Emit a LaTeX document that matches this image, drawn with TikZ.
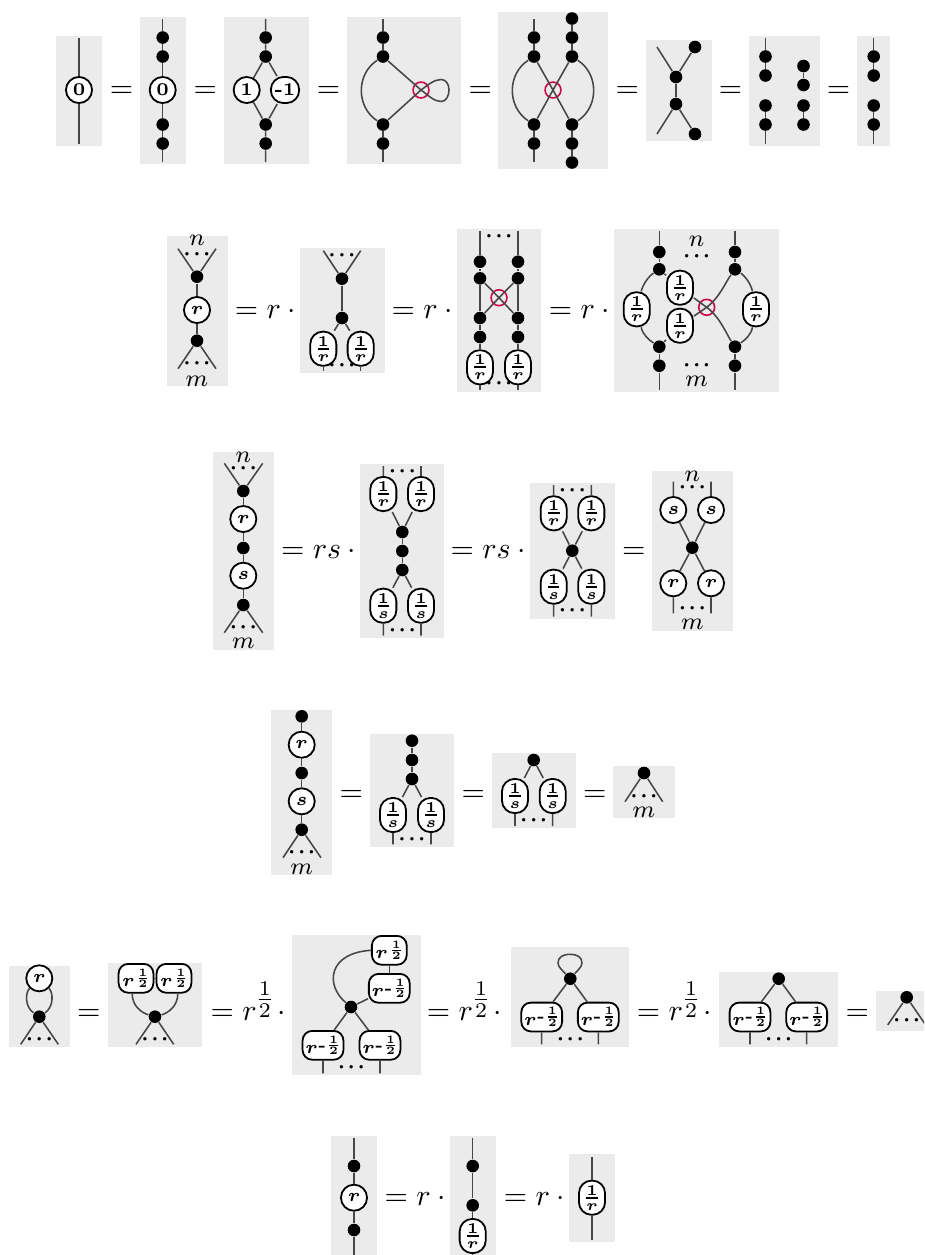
\documentclass[tikz,border=0pt]{standalone}
\usepackage{amsmath}
\usepackage{bm}
\definecolor{boxgray}{RGB}{235,235,235}
\definecolor{crossred}{RGB}{204,10,80}
\newcommand{\nodefont}{\fontsize{6}{7}\selectfont}
\tikzset{
  x=0.3333pt,y=-0.3333pt,
  graybox/.style={fill=boxgray,draw=none},
  wire/.style={draw=black!72,line width=0.52pt},
  dotn/.style={circle,fill=black,draw=none,minimum size=4.2pt,inner sep=0pt},
  circn/.style={circle,fill=white,draw=black,line width=0.6pt,minimum size=8.7pt,inner sep=0pt,font=\nodefont},
  pilln/.style={rectangle,rounded corners=4.2pt,fill=white,draw=black,line width=0.6pt,minimum width=9.4pt,minimum height=8.7pt,inner sep=0pt,font=\nodefont},
  fracn/.style={rectangle,rounded corners=4.2pt,fill=white,draw=black,line width=0.6pt,minimum width=8.7pt,minimum height=11.4pt,inner sep=0pt,font=\nodefont},
  halfn/.style={rectangle,rounded corners=3.2pt,fill=white,draw=black,line width=0.6pt,minimum width=11.6pt,minimum height=9.6pt,inner sep=0pt,font=\nodefont},
  negn/.style={rectangle,rounded corners=3.2pt,fill=white,draw=black,line width=0.6pt,minimum width=13.6pt,minimum height=9.6pt,inner sep=0pt,font=\nodefont},
  crossn/.style={circle,draw=crossred,line width=0.55pt,minimum size=5.3pt,inner sep=0pt},
  dotsn/.style={anchor=base,yshift=-1.75pt,inner sep=0pt,font=\scriptsize},
  labn/.style={anchor=base,yshift=-1.72pt,inner sep=0pt,font=\footnotesize},
  eqnn/.style={anchor=base west,yshift=-2.5pt,inner sep=0pt},
}
\newcommand{\bhalf}{\raisebox{1.9pt}{\scalebox{0.75}{$\bm{\genfrac{}{}{0.6pt}{3}{1}{2}}$}}}
\newcommand{\tkBox}[4]{\fill[graybox] (#1,#2) rectangle (#3,#4);}
\newcommand{\tkDot}[3]{\node[dotn] (#1) at (#2,#3) {};}
\newcommand{\tkCirc}[4]{\node[circn] (#1) at (#2,#3) {$\bm{#4}$};}
\newcommand{\tkFrac}[4]{\node[fracn] (#1) at (#2,#3) {$\bm{\genfrac{}{}{0.6pt}{}{1}{#4}}$};}
\newcommand{\tkHalf}[3]{\node[halfn] (#1) at (#2,#3) {$\bm{r}$\kern0.5pt\bhalf};}
\newcommand{\tkNeg}[3]{\node[negn] (#1) at (#2,#3) {$\bm{r}$\kern0.2pt\raisebox{1.2pt}{\fontsize{5}{5}\selectfont\bfseries -}\kern0.2pt\bhalf};}
\newcommand{\tkCross}[3]{\node[crossn] (#1) at (#2,#3) {};}
\newcommand{\tkEnd}[3]{\coordinate (#1) at (#2,#3);}
\newcommand{\bdot}{\mathord{\bm{\cdot}}}
\newcommand{\tkDots}[3]{\node[dotsn] (#1) at (#2,#3) {$\bdot\kern0.7pt\bdot\kern0.7pt\bdot$};}
\newcommand{\tkLab}[4]{\node[labn] (#1) at (#2,#3) {$#4$};}
\newcommand{\tkEq}[4]{\node[eqnn] (#1) at (#2,#3) {$#4$};}
\newcommand{\rhalf}{r^{\mkern-1mu\genfrac{}{}{}{1}{1}{2}}\mkern-3mu}
\begin{document}
\begin{tikzpicture}
\path[use as bounding box,clip] (0,0) rectangle (924,1255);
% ---------- Row 1
\tkBox{56}{36}{102}{146}
\tkEnd{aa1}{79}{38}\tkEnd{aa2}{79}{144}
\tkCirc{aac}{79}{90}{0}
\draw[wire] (aa1) -- (aac) -- (aa2);
\tkEq{e11}{109.2}{90}{=}
\tkBox{140}{17}{186}{164}
\tkEnd{ab1}{162.7}{19}\tkEnd{ab2}{162.7}{162}
\tkDot{abd1}{162.7}{37.5}\tkDot{abd2}{162.7}{56.5}\tkDot{abd3}{162.7}{124.5}\tkDot{abd4}{162.7}{143.5}
\tkCirc{abc}{162.7}{90}{0}
\draw[wire] (ab1) -- (abd1) -- (abd2) -- (abc) -- (abd3) -- (abd4) -- (ab2);
\tkEq{e12}{193}{90}{=}
\tkBox{224}{17}{309}{164}
\tkEnd{ac1}{265.7}{19}\tkEnd{ac2}{265.7}{162}
\tkDot{acd1}{265.7}{37.5}\tkDot{acd2}{265.7}{56.5}\tkDot{acd3}{265.7}{124.5}\tkDot{acd4}{265.7}{143.5}
\tkCirc{acl}{246.7}{90}{1}
\node[pilln] (acr) at (285,90) {\textbf{-1}};
\draw[wire] (ac1) -- (acd1) -- (acd2) -- (acl) -- (acd3) -- (acd4) -- (ac2);
\draw[wire] (acd2) -- (acr) -- (acd3);
\tkEq{e13}{316.3}{90}{=}
\tkBox{347}{17}{461}{164}
\tkEnd{ad1}{383}{19}\tkEnd{ad2}{383}{162}
\tkDot{add1}{383}{37.5}\tkDot{add2}{383}{56.5}\tkDot{add3}{383}{124.5}\tkDot{add4}{383}{143.5}
\tkCross{adx}{421}{90}
\draw[wire] (ad1) -- (add1) -- (add2);
\draw[wire] (add3) -- (add4) -- (ad2);
\draw[wire] (add2) .. controls (356,74) and (356,107) .. (add3);
\draw[wire] (add2) -- (adx.center) -- (add3);
\draw[wire] (adx.center) .. controls (428,85) and (434,79.5) .. (441,79.5) .. controls (446,79.5) and (449,84) .. (449,90) .. controls (449,96) and (446,101.5) .. (441,101.5) .. controls (434,101.5) and (428,95) .. (adx.center);
\tkEq{e14}{468}{90}{=}
\tkBox{498}{12}{608}{169}
\tkEnd{ae1}{534}{19}\tkEnd{ae2}{534}{162}
\tkDot{aed1}{534}{37.5}\tkDot{aed2}{534}{56.5}\tkDot{aed3}{534}{124.5}\tkDot{aed4}{534}{143.5}
\tkDot{aef0}{572}{18.5}\tkDot{aef1}{572}{37.5}\tkDot{aef2}{572}{56.5}\tkDot{aef3}{572}{124.5}\tkDot{aef4}{572}{143.5}\tkDot{aef5}{572}{162.5}
\tkCross{aex}{553}{90}
\draw[wire] (ae1) -- (aed1) -- (aed2);
\draw[wire] (aed3) -- (aed4) -- (ae2);
\draw[wire] (aef0) -- (aef1) -- (aef2);
\draw[wire] (aef3) -- (aef4) -- (aef5);
\draw[wire] (aed2) -- (aex.center) -- (aef3);
\draw[wire] (aef2) -- (aex.center) -- (aed3);
\draw[wire] (aed2) .. controls (507,74) and (507,107) .. (aed3);
\draw[wire] (aef2) .. controls (599,74) and (599,107) .. (aef3);
\tkEq{e15}{615}{90}{=}
\tkBox{646}{40}{712}{141}
\tkDot{afa}{676}{77}\tkDot{afb}{676}{104}\tkDot{afc}{695}{47}\tkDot{afd}{695}{134}
\tkEnd{af1}{657}{47}\tkEnd{af2}{657}{134}
\draw[wire] (af1) -- (afa) -- (afb) -- (af2);
\draw[wire] (afc) -- (afa);
\draw[wire] (afb) -- (afd);
\tkEq{e16}{718.3}{90}{=}
\tkBox{749}{36}{820}{146}
\tkEnd{ag1}{765.5}{38}\tkEnd{ag2}{765.5}{144}
\tkDot{agd1}{765.5}{56.5}\tkDot{agd2}{765.5}{75.5}\tkDot{agd3}{765.5}{105.5}\tkDot{agd4}{765.5}{124.5}
\tkDot{agf1}{803.5}{66}\tkDot{agf2}{803.5}{85}\tkDot{agf3}{803.5}{105.5}\tkDot{agf4}{803.5}{124.5}
\draw[wire] (ag1) -- (agd1) -- (agd2);
\draw[wire] (agd3) -- (agd4) -- (ag2);
\draw[wire] (agf1) -- (agf2);
\draw[wire] (agf3) -- (agf4);
\tkEq{e17}{826.3}{90}{=}
\tkBox{857}{36}{890}{146}
\tkEnd{ah1}{873.7}{38}\tkEnd{ah2}{873.7}{144}
\tkDot{ahd1}{873.7}{56.5}\tkDot{ahd2}{873.7}{75.5}\tkDot{ahd3}{873.7}{105.5}\tkDot{ahd4}{873.7}{124.5}
\draw[wire] (ah1) -- (ahd1) -- (ahd2);
\draw[wire] (ahd3) -- (ahd4) -- (ah2);
% ---------- Row 2
\tkBox{167}{236}{228}{386}
\tkDot{bat}{197}{276.7}\tkDot{bab}{197}{340.7}\tkCirc{bac}{197}{310}{r}
\tkEnd{ba1}{178}{248.7}\tkEnd{ba2}{216}{248.7}\tkEnd{ba3}{178}{368.7}\tkEnd{ba4}{216}{368.7}
\draw[wire] (ba1) -- (bat) -- (ba2);
\draw[wire] (ba3) -- (bab) -- (ba4);
\draw[wire] (bat) -- (bac) -- (bab);
\tkDots{bad1}{197}{254}\tkDots{bad2}{197}{363}
\tkLab{ban}{197}{240}{n}\tkLab{bam}{197}{381}{m}
\tkEq{e21}{234.3}{310.7}{=r\cdot{}}
\tkBox{300}{248}{385}{372.7}
\tkDot{bbt}{342}{278.7}\tkDot{bbb}{342}{318}
\tkEnd{bb1}{323.3}{250.7}\tkEnd{bb2}{360.7}{250.7}
\tkFrac{bbf}{323.3}{348.7}{r}\tkFrac{bbg}{360.7}{348.7}{r}
\tkEnd{bb3}{323.3}{371}\tkEnd{bb4}{360.7}{371}
\draw[wire] (bb1) -- (bbt) -- (bb2);
\draw[wire] (bbt) -- (bbb);
\draw[wire] (bbf) -- (bbb) -- (bbg);
\draw[wire] (bbf) -- (bb3);
\draw[wire] (bbg) -- (bb4);
\tkDots{bbd1}{342}{255.5}\tkDots{bbd2}{342}{365}
\tkEq{e22}{391}{310.7}{=r\cdot{}}
\tkBox{457}{229}{541}{391.7}
\tkEnd{bc1}{480}{231}\tkEnd{bc2}{518}{231}\tkEnd{bc3}{480}{390}\tkEnd{bc4}{518}{390}
\tkDot{bcl1}{480}{261.7}\tkDot{bcl2}{480}{278.3}\tkDot{bcl3}{480}{318}\tkDot{bcl4}{480}{337}
\tkDot{bcr1}{518}{261.7}\tkDot{bcr2}{518}{278.3}\tkDot{bcr3}{518}{318}\tkDot{bcr4}{518}{337}
\tkCross{bcx}{499}{297.7}
\tkFrac{bcf}{480}{367.3}{r}\tkFrac{bcg}{518}{367.3}{r}
\draw[wire] (bc1) -- (bcl1) -- (bcl2) -- (bcl3) -- (bcl4) -- (bcf) -- (bc3);
\draw[wire] (bc2) -- (bcr1) -- (bcr2) -- (bcr3) -- (bcr4) -- (bcg) -- (bc4);
\draw[wire] (bcl2) -- (bcx.center) -- (bcr3);
\draw[wire] (bcr2) -- (bcx.center) -- (bcl3);
\tkDots{bcd1}{499}{236.7}\tkDots{bcd2}{499}{383.7}
\tkEq{e23}{548.3}{310.7}{=r\cdot{}}
\tkBox{614}{229}{778.7}{391.7}
\tkEnd{bd1}{659.3}{231}\tkEnd{bd2}{735}{231}\tkEnd{bd3}{659.3}{390}\tkEnd{bd4}{735}{390}
\tkDot{bdl1}{659.3}{252}\tkDot{bdl2}{659.3}{269.3}\tkDot{bdl3}{659.3}{346.7}\tkDot{bdl4}{659.3}{365.7}
\tkDot{bdr1}{735}{252}\tkDot{bdr2}{735}{269.3}\tkDot{bdr3}{735}{346.7}\tkDot{bdr4}{735}{365.7}
\tkFrac{bdL}{636.7}{309.3}{r}\tkFrac{bdR}{756}{309.3}{r}
\tkFrac{bdT}{680}{287.7}{r}\tkFrac{bdB}{680}{325.7}{r}
\tkCross{bdx}{706.7}{307.3}
\draw[wire] (bd1) -- (bdl1) -- (bdl2);
\draw[wire] (bdl3) -- (bdl4) -- (bd3);
\draw[wire] (bd2) -- (bdr1) -- (bdr2);
\draw[wire] (bdr3) -- (bdr4) -- (bd4);
\draw[wire] (bdl2) -- (bdT);
\draw[wire] (bdl3) -- (bdB);
\draw[wire] (bdT) -- (bdx.center);
\draw[wire] (bdB) -- (bdx.center);
\draw[wire] (bdx.center) .. controls (720,317) and (727,335) .. (bdr3);
\draw[wire] (bdx.center) .. controls (720,297) and (725,283) .. (bdr2);
\draw[wire] (bdl2) .. controls (649,276) and (643,284) .. (bdL);
\draw[wire] (bdL) .. controls (643,335) and (649,340) .. (bdl3);
\draw[wire] (bdr2) .. controls (745,276) and (751,284) .. (bdR);
\draw[wire] (bdR) .. controls (751,335) and (745,340) .. (bdr3);
\tkLab{bdn}{696.7}{241.7}{n}\tkLab{bdm}{696.7}{381.7}{m}
\tkDots{bdd1}{696.7}{256}\tkDots{bdd2}{696.7}{365}
% ---------- Row 3
\tkBox{213}{452}{274}{649.7}
\tkDot{cad1}{243.3}{491}\tkDot{cad2}{243.3}{548}\tkDot{cad3}{243.3}{605}
\tkCirc{car}{243.3}{519}{r}\tkCirc{cas}{243.3}{575.7}{s}
\tkEnd{ca1}{224.3}{463.3}\tkEnd{ca2}{262.7}{463.3}\tkEnd{ca3}{224.3}{632.7}\tkEnd{ca4}{262.7}{632.7}
\draw[wire] (ca1) -- (cad1) -- (ca2);
\draw[wire] (ca3) -- (cad3) -- (ca4);
\draw[wire] (cad1) -- (car) -- (cad2) -- (cas) -- (cad3);
\tkLab{can}{243.3}{457}{n}\tkLab{cam}{243.3}{643}{m}
\tkDots{cae1}{243.3}{468.5}\tkDots{cae2}{243.3}{627}
\tkEq{e31}{280.6}{551}{=rs\cdot{}}
\tkBox{360}{463.7}{444}{637.7}
\tkDot{cbd1}{402.3}{532}\tkDot{cbd2}{402.3}{551}\tkDot{cbd3}{402.3}{570}
\tkFrac{cbf}{383.3}{494}{r}\tkFrac{cbg}{421}{494}{r}\tkFrac{cbh}{383.3}{605.7}{s}\tkFrac{cbi}{421}{605.7}{s}
\tkEnd{cb1}{383.3}{466}\tkEnd{cb2}{421}{466}\tkEnd{cb3}{383.3}{635.7}\tkEnd{cb4}{421}{635.7}
\draw[wire] (cb1) -- (cbf) -- (cbd1) -- (cbg) -- (cb2);
\draw[wire] (cb3) -- (cbh) -- (cbd3) -- (cbi) -- (cb4);
\draw[wire] (cbd1) -- (cbd2) -- (cbd3);
\tkDots{cbe1}{402.3}{471}\tkDots{cbe2}{402.3}{630.3}
\tkEq{e32}{450}{551}{=rs\cdot{}}
\tkBox{530}{483}{615}{619}
\tkDot{ccd}{572.3}{550.7}
\tkFrac{ccf}{553.7}{513.3}{r}\tkFrac{ccg}{591.3}{513.3}{r}\tkFrac{cch}{553.7}{586.7}{s}\tkFrac{cci}{591.3}{586.7}{s}
\tkEnd{cc1}{553.7}{485}\tkEnd{cc2}{591.3}{485}\tkEnd{cc3}{553.7}{616.7}\tkEnd{cc4}{591.3}{616.7}
\draw[wire] (cc1) -- (ccf) -- (ccd) -- (cci) -- (cc4);
\draw[wire] (cc2) -- (ccg) -- (ccd) -- (cch) -- (cc3);
\tkDots{cce1}{572.3}{490}\tkDots{cce2}{572.3}{610.7}
\tkEq{e33}{621.6}{550.7}{=}
\tkBox{652}{471}{732.7}{630.7}
\tkDot{cdd}{692.3}{547.7}
\tkCirc{cdf}{673.3}{510}{s}\tkCirc{cdg}{711}{510}{s}\tkCirc{cdh}{673.3}{583.3}{r}\tkCirc{cdi}{711}{583.3}{r}
\tkEnd{cd1}{673.3}{481.7}\tkEnd{cd2}{711}{481.7}\tkEnd{cd3}{673.3}{613.3}\tkEnd{cd4}{711}{613.3}
\draw[wire] (cd1) -- (cdf) -- (cdd) -- (cdi) -- (cd4);
\draw[wire] (cd2) -- (cdg) -- (cdd) -- (cdh) -- (cd3);
\tkLab{cdn}{692.3}{476}{n}\tkLab{cdm}{692.3}{624.3}{m}
\tkDots{cde1}{692.3}{487.3}\tkDots{cde2}{692.3}{608.3}
% ---------- Row 4
\tkBox{271}{710}{332}{875}
\tkDot{dad1}{301.7}{716.3}\tkDot{dad2}{301.7}{773}\tkDot{dad3}{301.7}{829.7}
\tkCirc{dar}{301.7}{744.7}{r}\tkCirc{das}{301.7}{801.3}{s}
\tkEnd{da3}{283}{857.7}\tkEnd{da4}{321}{857.7}
\draw[wire] (dad1) -- (dar) -- (dad2) -- (das) -- (dad3);
\draw[wire] (da3) -- (dad3) -- (da4);
\tkDots{dae}{301.7}{852}\tkLab{dam}{301.7}{869.3}{m}
\tkEq{e41}{339}{794.3}{=}
\tkBox{370}{734}{454}{846.7}
\tkDot{dbd1}{412}{740.7}\tkDot{dbd2}{412}{760}\tkDot{dbd3}{412}{779}
\tkFrac{dbf}{393}{815}{s}\tkFrac{dbg}{431}{815}{s}
\tkEnd{db1}{393}{844.3}\tkEnd{db2}{431}{844.3}
\draw[wire] (dbd1) -- (dbd2) -- (dbd3);
\draw[wire] (db1) -- (dbf) -- (dbd3) -- (dbg) -- (db2);
\tkDots{dbe}{412}{839.3}
\tkEq{e42}{461}{794.3}{=}
\tkBox{492}{753}{576}{828}
\tkDot{dcd}{533.7}{760}
\tkFrac{dcf}{515}{796}{s}\tkFrac{dcg}{552.7}{796}{s}
\tkEnd{dc1}{515}{826}\tkEnd{dc2}{552.7}{826}
\draw[wire] (dc1) -- (dcf) -- (dcd) -- (dcg) -- (dc2);
\tkDots{dce}{533.7}{820.3}
\tkEq{e43}{582.6}{794.3}{=}
\tkBox{613}{766}{675}{817.7}
\tkDot{ddd}{644}{773}
\tkEnd{dd1}{625}{801.7}\tkEnd{dd2}{662.7}{801.7}
\draw[wire] (dd1) -- (ddd) -- (dd2);
\tkDots{dde}{644}{796.7}\tkLab{ddm}{644}{812.7}{m}
% ---------- Row 5
\tkBox{9}{966}{70}{1046.7}
\tkCirc{eac}{39.3}{978.3}{r}\tkDot{ead}{39.3}{1016.7}
\tkEnd{ea1}{20.7}{1044.3}\tkEnd{ea2}{58.3}{1044.3}
\draw[wire] (ea1) -- (ead) -- (ea2);
\draw[wire] (eac) .. controls (25,993) and (25,1007) .. (ead);
\draw[wire] (eac) .. controls (53.6,993) and (53.6,1007) .. (ead);
\tkDots{eae}{39.3}{1039.3}
\tkEq{e51}{76.6}{1013.3}{=}
\tkBox{108}{963}{202}{1046.7}
\tkDot{ebd}{155}{1016.7}
\tkHalf{ebf}{136}{978.3}\tkHalf{ebg}{174}{978.3}
\tkEnd{eb1}{136}{1044.3}\tkEnd{eb2}{173.7}{1044.3}
\draw[wire] (ebf) -- (ebg);
\draw[wire] (ebf.256) .. controls (132,1006) and (142,1013) .. (ebd);
\draw[wire] (ebg.284) .. controls (178,1006) and (168,1013) .. (ebd);
\draw[wire] (eb1) -- (ebd) -- (eb2);
\tkDots{ebe}{155}{1039.3}
\tkEq{e52}{210}{1013.3}{=\rhalf\cdot{}}
\tkBox{292}{934.7}{421}{1074.7}
\tkDot{ecd}{351}{1007}
\tkHalf{ech}{389.3}{950.3}\tkNeg{ecn}{389.3}{988.3}
\tkNeg{ecf}{323}{1045.3}\tkNeg{ecg}{380}{1045.3}
\tkEnd{ec1}{323}{1073.3}\tkEnd{ec2}{380}{1073.3}
\draw[wire] (ech) -- (ecn);
\draw[wire] (ecn) -- (ecd);
\draw[wire] (ecd) .. controls (325,985) and (328,953) .. (ech.west);
\draw[wire] (ec1) -- (ecf) -- (ecd) -- (ecg) -- (ec2);
\tkDots{ece}{351.3}{1067}
\tkEq{e53}{426.3}{1013}{=\rhalf\cdot{}}
\tkBox{511}{947}{629}{1046.7}
\tkDot{edd}{570.3}{978.7}
\tkNeg{edf}{541.7}{1017}\tkNeg{edg}{598.3}{1017}
\tkEnd{ed1}{541.7}{1044.3}\tkEnd{ed2}{598.3}{1044.3}
\draw[wire] (ed1) -- (edf) -- (edd) -- (edg) -- (ed2);
\draw[wire] (edd) .. controls (563,971) and (558,967) .. (558,963) .. controls (558,957) and (563,954.3) .. (570.3,954.3) .. controls (577,954.3) and (582,957) .. (582,963) .. controls (582,967) and (577,971) .. (edd);
\tkDots{ede}{570.3}{1039}
\tkEq{e54}{636.3}{1013}{=\rhalf\cdot{}}
\tkBox{719}{972}{838}{1046.7}
\tkDot{eed}{778.7}{978.7}
\tkNeg{eef}{750}{1017}\tkNeg{eeg}{806.7}{1017}
\tkEnd{ee1}{750}{1044.3}\tkEnd{ee2}{806.7}{1044.3}
\draw[wire] (ee1) -- (eef) -- (eed) -- (eeg) -- (ee2);
\tkDots{eee}{778.7}{1039}
\tkEq{e55}{845}{1013}{=}
\tkBox{876}{990.7}{924}{1031}
\tkDot{efd}{906.7}{997.3}
\tkEnd{ef1}{887.7}{1025}\tkEnd{ef2}{925.7}{1025}
\draw[wire] (ef1) -- (efd) -- (ef2);
\tkDots{efe}{906.7}{1020}
% ---------- Row 6
\tkBox{331}{1136}{377}{1255}
\tkEnd{fa1}{354}{1137.7}\tkEnd{fa2}{354}{1255}
\tkDot{fad1}{354}{1166}\tkDot{fad2}{354}{1230}
\tkCirc{fac}{354}{1197.7}{r}
\draw[wire] (fa1) -- (fad1) -- (fac) -- (fad2) -- (fa2);
\tkEq{e61}{384}{1197.7}{=r\cdot{}}
\tkBox{450}{1136}{496}{1255}
\tkEnd{fb1}{472.7}{1137.7}\tkEnd{fb2}{472.7}{1255}
\tkDot{fbd1}{472.7}{1166}\tkDot{fbd2}{472.7}{1205.3}
\tkFrac{fbf}{472.7}{1236}{r}
\draw[wire] (fb1) -- (fbd1) -- (fbd2) -- (fbf) -- (fb2);
\tkEq{e62}{503.3}{1197.7}{=r\cdot{}}
\tkBox{569}{1154}{615}{1241.7}
\tkEnd{fc1}{592}{1156.7}\tkEnd{fc2}{592}{1239.7}
\tkFrac{fcf}{592}{1197.7}{r}
\draw[wire] (fc1) -- (fcf) -- (fc2);
\end{tikzpicture}
\end{document}
